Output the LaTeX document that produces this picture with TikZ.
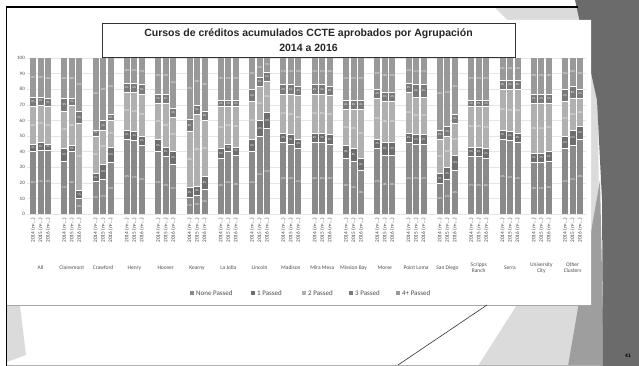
\documentclass[tikz,border=0pt]{standalone}
\usepackage{fontspec}
\setmainfont{Carlito}
\newfontfamily\titlefont{Liberation Sans}
\usetikzlibrary{positioning}

\definecolor{nonegray}{gray}{0.54}
\definecolor{onegray}{gray}{0.43}
\definecolor{twogray}{gray}{0.69}
\definecolor{threegray}{gray}{0.48}
\definecolor{fourgray}{gray}{0.60}
\definecolor{darkslide}{gray}{0.42}
\definecolor{midslide}{gray}{0.62}
\definecolor{lightslide}{gray}{0.86}

\tikzset{
  titlebox/.style={ draw=black!80, fill=white, line width=0.6pt, minimum width=413pt, minimum height=34pt,
    align=center, text=black!85, font=\titlefont\bfseries\fontsize{10.5}{14.5}\selectfont }
}
\tikzset{
  seglbl/.style={ inner sep=0pt, text=white, font=\fontsize{2.8}{3}\selectfont }
}
\tikzset{
  yearlbl/.style={ rotate=90, anchor=east, inner sep=0pt, text=black!75, font=\fontsize{5.3}{5.5}\selectfont }
}
\tikzset{
  clusterlbl/.style={ align=center, inner sep=0pt, text=black!70, font=\fontsize{5.5}{6}\selectfont }
}
\tikzset{
  ticklbl/.style={ anchor=east, inner sep=0pt, text=black!70, font=\fontsize{5}{5}\selectfont }
}
\tikzset{
  legkey/.style={ minimum size=3.5pt, inner sep=0pt }
}
\tikzset{
  legtxt/.style={ inner sep=0pt, text=black!70, font=\fontsize{7}{7}\selectfont }
}

\begin{document}
\begin{tikzpicture}[x=1pt, y=1pt]
      \useasboundingbox (0,0) rectangle (639,366);
      \fill[white] (0,0) rectangle (639,366);

      % slide background
      \fill[lightslide] (495,359) -- (580,359) -- (598,266) -- (600,0) -- (478,0) -- (520,66) -- cycle;
      \fill[midslide] (568,0) -- (600,186) -- (604,0) -- cycle;
      \fill[darkslide] (575,366) -- (639,366) -- (639,0) -- (603,0) -- (602,166) -- (597,266) -- cycle;
      \fill[lightslide] (7,60) -- (20,60) -- (26,11) -- (7,4) -- cycle;

      % chart panel
      \fill[white] (7,358) -- (495,358) -- (507,346) -- (591,346) -- (591,61) -- (7,61) -- cycle;
      \draw[black!35, line width=0.8pt] (7,61) -- (591,61);
      \draw[black, line width=1.5pt] (6.5,0) -- (6.5,359) -- (578,359);
      \draw[black!30, line width=0.5pt] (7,1) -- (600,1);

      \coordinate (lineA) at (398,1);
      \coordinate (lineB) at (487,61);
      \draw[black!80, line width=0.6pt] (lineA) -- (lineB);

      \node[titlebox] (title) at (308.5,326) {Cursos de créditos acumulados CCTE aprobados por Agrupación\\2014 a 2016};

      % y axis
      \foreach \v in {0,10,...,100}{
        \node[ticklbl] (tick\v) at (25,{152+1.56*\v}) {\v};
        \draw[black!10, line width=0.3pt] (27,{152+1.56*\v}) -- (586,{152+1.56*\v});
      }

      % bars: none / 1 / 2 / 3 passed, 4+ is the rest
      \foreach \pa/\pb/\pc/\pd [count=\i from 0] in {
          40/5/24/6, 41/5/24/5, 41/4/24/5,
          34/8/24/8, 40/4/26/4, 10/5/43/8,
          21/5/24/4, 22/10/22/6, 33/10/17/4,
          48/6/24/6, 47/6/25/6, 44/6/27/6,
          40/8/23/6, 37/6/28/6, 32/8/22/6,
          11/6/36/8, 12/6/46/6, 16/8/36/6,
          36/6/27/4, 40/5/24/4, 38/5/26/4,
          40/8/24/8, 50/10/22/6, 55/10/20/6,
          46/6/25/6, 45/6/26/6, 42/6/28/6,
          46/6/25/6, 46/6/25/6, 45/6/25/6,
          36/8/23/6, 34/8/25/6, 28/8/31/6,
          42/6/26/6, 38/8/26/6, 38/8/26/6,
          46/6/26/6, 45/6/24/8, 45/6/24/8,
          20/6/22/6, 22/8/20/6, 28/10/20/6,
          37/6/26/4, 37/6/26/4, 36/6/27/4,
          48/6/26/6, 47/6/27/6, 46/6/28/6,
          33/6/32/6, 33/6/32/6, 34/6/31/6,
          42/8/22/8, 44/10/20/8, 48/8/18/6}{
        \pgfmathtruncatemacro\g{\i/3}
        \pgfmathtruncatemacro\k{\i-3*\g}
        \pgfmathsetmacro\xl{30+31.3*\g+7.5*\k}
        \pgfmathsetmacro\xr{\xl+6}
        \pgfmathsetmacro\xm{\xl+3}
        \pgfmathsetmacro\ya{152+1.56*\pa}
        \pgfmathsetmacro\yb{\ya+1.56*\pb}
        \pgfmathsetmacro\yc{\yb+1.56*\pc}
        \pgfmathsetmacro\yd{\yc+1.56*\pd}
        \pgfmathtruncatemacro\pe{100-\pa-\pb-\pc-\pd}
        \pgfmathtruncatemacro\yr{2014+\k}
        \fill[nonegray] (\xl,152) rectangle (\xr,\ya);
        \fill[onegray] (\xl,\ya) rectangle (\xr,\yb);
        \fill[twogray] (\xl,\yb) rectangle (\xr,\yc);
        \fill[threegray] (\xl,\yc) rectangle (\xr,\yd);
        \fill[fourgray] (\xl,\yd) rectangle (\xr,308);
        \foreach \yy in {\ya,\yb,\yc,\yd}
          \draw[white, line width=0.4pt] (\xl,\yy) -- (\xr,\yy);
        \node[seglbl] at (\xm,{(152+\ya)/2}) {\pa\%};
        \node[seglbl] at (\xm,{(\ya+\yb)/2}) {\pb\%};
        \node[seglbl] at (\xm,{(\yb+\yc)/2}) {\pc\%};
        \node[seglbl] at (\xm,{(\yc+\yd)/2}) {\pd\%};
        \node[seglbl] at (\xm,{(\yd+308)/2}) {\pe\%};
        \node[yearlbl] (yr\i) at (\xm,148) {\yr\ (n=…)};
      }

      \foreach \name [count=\j from 0] in {All, Clairemont, Crawford, Henry, Hoover, Kearny, La Jolla,
          Lincoln, Madison, Mira Mesa, Mission Bay, Morse, Point Loma, San Diego, {Scripps\\Ranch},
          Serra, {University\\City}, {Other\\Clusters}}{
        \pgfmathsetmacro\xc{40.5+31.3*\j}
        \node[clusterlbl] (grp\j) at (\xc,98) {\name};
      }

      % legend
      \node[legkey, fill=nonegray] (keyNone) at (192,73) {};
      \node[legtxt, right=2pt of keyNone] (txtNone) {None Passed};
      \node[legkey, fill=onegray] (keyOne) at (253,73) {};
      \node[legtxt, right=2pt of keyOne] (txtOne) {1 Passed};
      \node[legkey, fill=twogray] (keyTwo) at (304,73) {};
      \node[legtxt, right=2pt of keyTwo] (txtTwo) {2 Passed};
      \node[legkey, fill=threegray] (keyThree) at (351,73) {};
      \node[legtxt, right=2pt of keyThree] (txtThree) {3 Passed};
      \node[legkey, fill=fourgray] (keyFour) at (398,73) {};
      \node[legtxt, right=2pt of keyFour] (txtFour) {4+ Passed};

      \node[inner sep=0pt, font=\titlefont\bfseries\fontsize{5}{5}\selectfont] (pagenum) at (628,10) {41};
    \end{tikzpicture}
\end{document}
